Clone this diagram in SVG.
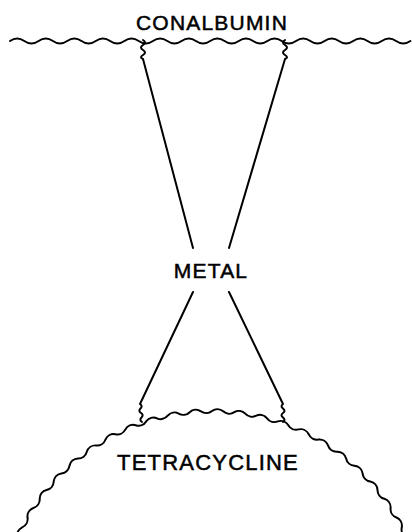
<svg xmlns="http://www.w3.org/2000/svg" width="412" height="532" viewBox="0 0 412 532">
<style>
.ln{fill:none;stroke:#000;stroke-width:2;stroke-linejoin:round;stroke-linecap:round}
.lb{font-family:"Liberation Sans",Arial,sans-serif;font-size:21px;fill:#000;stroke:#000;stroke-width:0.5;text-anchor:middle;letter-spacing:1.2px}
</style>
<rect width="412" height="532" fill="#fff"/>
<g id="conalbumin">
<path class="ln" d="M10 41 q7.15 -5 14.3 0 t14.3 0 t14.3 0 t14.3 0 t14.3 0 t14.3 0 t14.3 0 t14.3 0 t14.3 0 t14.3 0 t14.3 0 t14.3 0 t14.3 0 t14.3 0 t14.3 0 t14.3 0 t14.3 0 t14.3 0 t14.3 0 t14.3 0 t14.3 0 t14.3 0 t14.3 0 t14.3 0 t14.3 0 t14.3 0 t14.3 0 t14.3 0"/>
<text class="lb" x="212" y="30">CONALBUMIN</text>
</g>
<g id="metal">
<text class="lb" x="211" y="278">METAL</text>
</g>
<g id="tetracycline">
<path class="ln" d="M17.4 537.4 A9 9 0 0 1 22.2 527.3 A9 9 0 0 0 27.5 517.5 A9 9 0 0 1 33.4 508 A9 9 0 0 0 39.7 498.8 A9 9 0 0 1 46.5 490 A9 9 0 0 0 53.7 481.5 A9 9 0 0 1 61.4 473.4 A9 9 0 0 0 69.5 465.7 A9 9 0 0 1 78 458.5 A9 9 0 0 0 86.8 451.7 A9 9 0 0 1 96 445.4 A9 9 0 0 0 105.5 439.5 A9 9 0 0 1 115.3 434.2 A9 9 0 0 0 125.4 429.4 A9 9 0 0 1 135.7 425.2 A9 9 0 0 0 146.2 421.4 A9 9 0 0 1 156.9 418.3 A9 9 0 0 0 167.7 415.7 A9 9 0 0 1 178.7 413.6 A9 9 0 0 0 189.7 412.2 A9 9 0 0 1 200.9 411.3 A9 9 0 0 0 212 411 A9 9 0 0 1 223.2 411.3 A9 9 0 0 0 234.3 412.2 A9 9 0 0 1 245.3 413.6 A9 9 0 0 0 256.3 415.7 A9 9 0 0 1 267.1 418.3 A9 9 0 0 0 277.8 421.4 A9 9 0 0 1 288.3 425.2 A9 9 0 0 0 298.6 429.4 A9 9 0 0 1 308.7 434.2 A9 9 0 0 0 318.5 439.5 A9 9 0 0 1 328 445.4 A9 9 0 0 0 337.2 451.7 A9 9 0 0 1 346.1 458.5 A9 9 0 0 0 354.5 465.7 A9 9 0 0 1 362.6 473.4 A9 9 0 0 0 370.3 481.5 A9 9 0 0 1 377.5 490 A9 9 0 0 0 384.3 498.8 A9 9 0 0 1 390.6 508 A9 9 0 0 0 396.5 517.5 A9 9 0 0 1 401.8 527.3 A9 9 0 0 0 406.6 537.4"/>
<text class="lb" x="208" y="470" style="font-size:22px">TETRACYCLINE</text>
</g>
<g id="connectors">
<path class="ln" d="M143 40 q4 2.5 0 5 t0 5 t0 5 t0 4 L193 248"/>
<path class="ln" d="M285 40 q-4 2.5 0 5 t0 5 t0 5 t0 4 L229 248"/>
<path class="ln" d="M193 292 L140 404 q3 2 0.5 4.5 t0.5 4.5 t0.5 4.5 t0.5 4.5"/>
<path class="ln" d="M229 292 L283 404 q-3 2 0 4.5 t0 4.5 t0 4.5 t0 4.5"/>
</g>
</svg>
